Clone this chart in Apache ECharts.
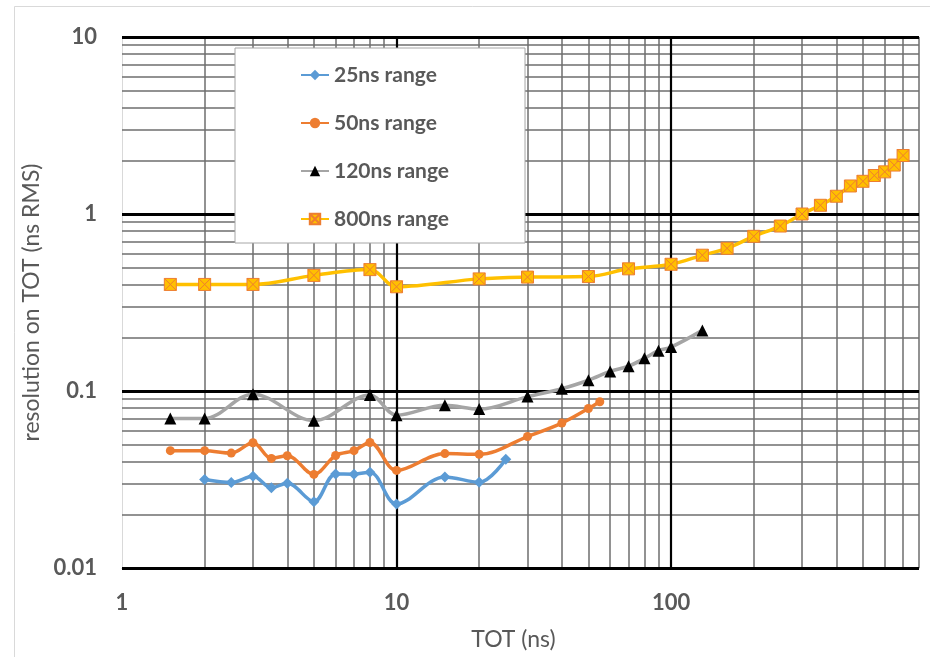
<!DOCTYPE html>
<html>
<head>
<meta charset="utf-8">
<script src="https://cdn.jsdelivr.net/npm/echarts@6/dist/echarts.min.js"></script>
<style>html,body{margin:0;padding:0;background:#fff}#c{width:930px;height:657px}</style>
</head>
<body>
<div id="c"></div>
<script>
// ---- data (TOT in ns, resolution in ns RMS) ----
const seriesNames = ['25ns range', '50ns range', '120ns range', '800ns range'];

const x25 = [2, 2.5, 3, 3.5, 4, 5, 6, 7, 8, 10, 15, 20, 25];
const y25 = [0.0316, 0.0304, 0.033, 0.0284, 0.0301, 0.0237, 0.034, 0.0339, 0.0348, 0.023, 0.0327, 0.0305, 0.0412];

const x50 = [1.5, 2, 2.5, 3, 3.5, 4, 5, 6, 7, 8, 10, 15, 20, 30, 40, 50, 55];
const y50 = [0.046, 0.046, 0.0446, 0.051, 0.0416, 0.0431, 0.0338, 0.0432, 0.046, 0.0512, 0.0356, 0.0443, 0.0439, 0.0553, 0.0659, 0.0796, 0.0869];

const x120 = [1.5, 2, 3, 5, 8, 10, 15, 20, 30, 40, 50, 60, 70, 80, 90, 100, 130];
const y120 = [0.07, 0.07, 0.096, 0.068, 0.095, 0.073, 0.083, 0.079, 0.093, 0.103, 0.115, 0.129, 0.138, 0.153, 0.169, 0.177, 0.22];

const x800 = [1.5, 2, 3, 5, 8, 10, 20, 30, 50, 70, 100, 130, 160, 200, 250, 300, 350, 400, 450, 500, 550, 600, 650, 700];
const y800 = [0.40, 0.40, 0.40, 0.45, 0.485, 0.388, 0.43, 0.44, 0.443, 0.49, 0.52, 0.585, 0.64, 0.748, 0.855, 1.0, 1.12, 1.26, 1.44, 1.53, 1.65, 1.73, 1.89, 2.14];

// axis ranges and gridline values
const xRange = [1, 800];
const yRange = [0.01, 10];
const xMajorGrid = [10, 100];
const xMinorGrid = [2, 3, 4, 5, 6, 7, 8, 9, 20, 30, 40, 50, 60, 70, 80, 90, 200, 300, 400, 500, 600, 700, 800];
const yMajorGrid = [0.01, 0.1, 1, 10];
const yMinorGrid = [0.02, 0.03, 0.04, 0.05, 0.06, 0.07, 0.08, 0.09, 0.2, 0.3, 0.4, 0.5, 0.6, 0.7, 0.8, 0.9, 2, 3, 4, 5, 6, 7, 8, 9];

// ---- chart ----
const FONT = 'Lato';
const TXT = '#595959';
const pairs = (xs, ys) => xs.map((x, i) => [x, ys[i]]);
const isDecade = v => Math.abs(Math.log10(v) - Math.round(Math.log10(v))) < 1e-6;
const fmt = v => {
  if (!isDecade(v)) return '';
  const e = Math.round(Math.log10(v));
  return e >= 0 ? String(Math.pow(10, e)) : Math.pow(10, e).toFixed(-e);
};

const chart = echarts.init(document.getElementById('c'), null, {renderer: 'canvas'});

const gridSeries = (lines, color, width, z) => ({
  type: 'line', data: [], silent: true, z: z,
  markLine: {
    silent: true, z: z, symbol: ['none', 'none'], animation: false,
    label: {show: false}, emphasis: {disabled: true},
    lineStyle: {color: color, width: width, type: 'solid'},
    data: lines
  }
});

const sq = 'path://M0,0L10,0L10,10L0,10Z M0,0L10,10 M10,0L0,10';

const option = {
  animation: false,
  backgroundColor: '#ffffff',
  graphic: [{
    type: 'rect', z: -10, silent: true,
    shape: {x: 14.5, y: 6.5, width: 2000, height: 2000},
    style: {fill: 'none', stroke: '#d9d9d9', lineWidth: 1}
  }],
  grid: {left: 122, right: 11, top: 37, bottom: 89, containLabel: false},
  legend: {
    data: seriesNames,
    orient: 'vertical',
    left: 235, top: 48,
    padding: [16, 76, 13, 65],
    itemWidth: 28, itemHeight: 13, itemGap: 26,
    backgroundColor: '#ffffff',
    borderColor: '#a6a6a6', borderWidth: 1,
    textStyle: {fontFamily: FONT, fontWeight: 'bold', fontSize: 21, color: TXT, lineHeight: 22},
    selectedMode: false
  },
  xAxis: {
    type: 'log', logBase: 10, min: xRange[0], max: xRange[1],
    name: 'TOT (ns)', nameLocation: 'middle', nameGap: 60,
    nameTextStyle: {fontFamily: FONT, fontSize: 23, color: TXT, padding: [0, 14, 0, 0]},
    axisLine: {show: true, lineStyle: {color: '#bfbfbf', width: 1}},
    axisTick: {show: false},
    splitLine: {show: false},
    axisLabel: {formatter: fmt, fontFamily: FONT, fontWeight: 'bold', fontSize: 22, color: TXT, margin: 24, showMaxLabel: false}
  },
  yAxis: {
    type: 'log', logBase: 10, min: yRange[0], max: yRange[1],
    name: 'resolution on TOT (ns RMS)', nameLocation: 'middle', nameGap: 69,
    nameTextStyle: {fontFamily: FONT, fontSize: 23, color: TXT},
    axisLine: {show: true, lineStyle: {color: '#d9d9d9', width: 1}},
    axisTick: {show: false},
    splitLine: {show: false},
    axisLabel: {formatter: fmt, fontFamily: FONT, fontWeight: 'bold', fontSize: 22, color: TXT, margin: 25}
  },
  series: [
    gridSeries(xMinorGrid.map(v => ({xAxis: v})).concat(yMinorGrid.map(v => ({yAxis: v}))), '#6e6e6e', 1.5, 1),
    gridSeries(xMajorGrid.map(v => ({xAxis: v})), '#000000', 2.2, 2),
    gridSeries(yMajorGrid.map(v => ({yAxis: v})), '#000000', 3.2, 2),
    {
      name: seriesNames[0], type: 'line', z: 3, data: pairs(x25, y25), smooth: 0.35,
      symbol: 'diamond', symbolSize: 11,
      lineStyle: {color: '#5B9BD5', width: 3.5}, itemStyle: {color: '#5B9BD5'}
    },
    {
      name: seriesNames[1], type: 'line', z: 3, data: pairs(x50, y50), smooth: 0.35,
      symbol: 'circle', symbolSize: 9,
      lineStyle: {color: '#ED7D31', width: 3.5}, itemStyle: {color: '#ED7D31'}
    },
    {
      name: seriesNames[2], type: 'line', z: 3, data: pairs(x120, y120), smooth: 0.35,
      symbol: 'triangle', symbolSize: 12,
      lineStyle: {color: '#A5A5A5', width: 3.5}, itemStyle: {color: '#000000'}
    },
    {
      name: seriesNames[3], type: 'line', z: 3, data: pairs(x800, y800), smooth: 0.35,
      symbol: sq, symbolSize: 12,
      lineStyle: {color: '#FFC000', width: 3.5},
      itemStyle: {color: '#FFC000', borderColor: '#ED7D31', borderWidth: 1}
    }
  ]
};
chart.setOption(option);
</script>
</body>
</html>
